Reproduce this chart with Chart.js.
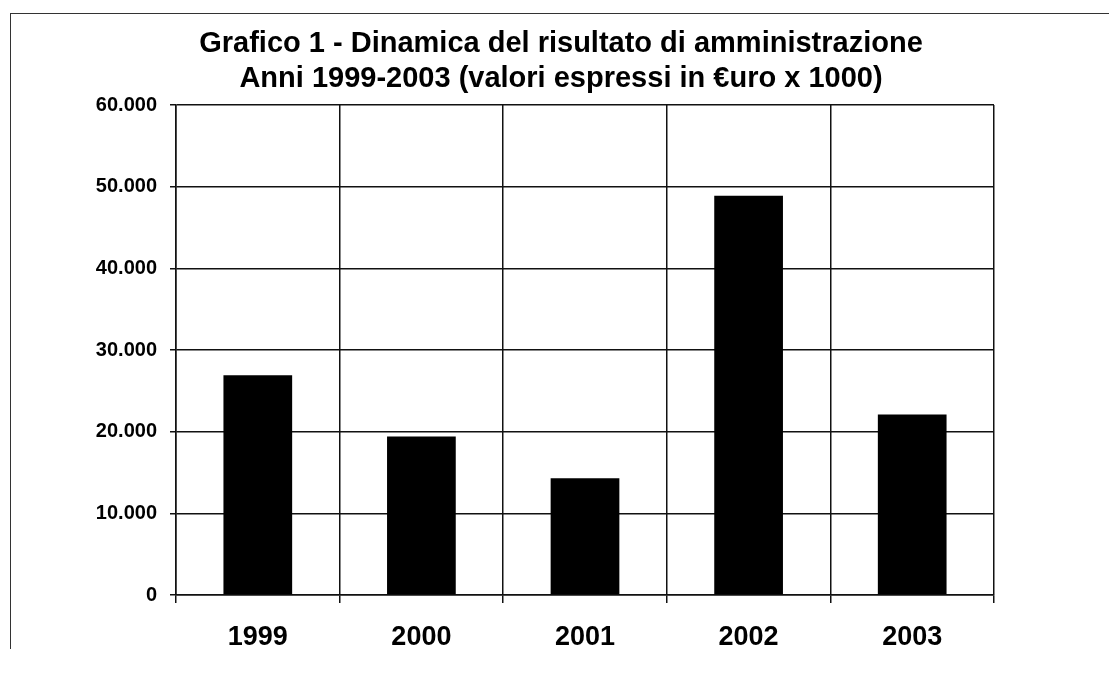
<!DOCTYPE html>
<html>
<head>
<meta charset="utf-8">
<script src="https://cdn.jsdelivr.net/npm/chart.js@4"></script>
<style>
  html, body { margin: 0; padding: 0; background: #fff; }
  #wrap { position: relative; width: 1109px; height: 673px; }
  #frame {
    position: absolute; left: 10px; top: 13px; right: 0; height: 635px;
    border-top: 1px solid #333; border-left: 1px solid #333;
  }
  canvas { position: absolute; left: 0; top: 0; }
</style>
</head>
<body>
<div id="wrap">
  <div id="frame"></div>
  <canvas id="chart" width="1109" height="673"></canvas>
</div>
<script>
// dati (valori in euro x 1000)
const anni = ["1999", "2000", "2001", "2002", "2003"];
const risultato = [26900, 19400, 14300, 48900, 22100];
const titolo = [
  "Grafico 1 - Dinamica del risultato di amministrazione",
  "Anni 1999-2003 (valori espressi in \u20acuro x 1000)"
];
const yMin = 0, yMax = 60000, yStep = 10000;

const FONT = "'Liberation Sans', Arial, sans-serif";

/* formato italiano: 10000 -> 10.000 */
function fmt(v) {
  return String(v).replace(/\B(?=(\d{3})+(?!\d))/g, ".");
}

/* titolo su due righe, disegnato sopra il grafico */
const titlePlugin = {
  id: "titolo",
  afterDraw(chart) {
    const ctx = chart.ctx;
    ctx.save();
    ctx.fillStyle = "#000";
    ctx.font = "bold 29px " + FONT;
    ctx.textAlign = "center";
    ctx.textBaseline = "alphabetic";
    ctx.fillText(titolo[0], 561, 52);
    ctx.fillText(titolo[1], 561, 87);
    ctx.restore();
  }
};

const config = {
  type: "bar",
  data: {
    labels: anni,
    datasets: [{
      label: "Risultato di amministrazione",
      data: risultato,
      backgroundColor: "#000",
      borderWidth: 0,
      barPercentage: 0.42,
      categoryPercentage: 1
    }]
  },
  options: {
    responsive: false,
    animation: false,
    layout: { padding: { top: 105, right: 115, bottom: 0, left: 0 } },
    plugins: {
      legend: { display: false },
      tooltip: { enabled: false },
      title: { display: false }
    },
    scales: {
      x: {
        grid: { color: "#111", lineWidth: 1.5, tickLength: 8, offset: true },
        border: { color: "#111", width: 1.5 },
        ticks: {
          color: "#000",
          padding: 18,
          font: { family: FONT, size: 27, weight: "bold" }
        },
        afterFit(scale) { scale.height = 78; }
      },
      y: {
        min: yMin,
        max: yMax,
        grid: { color: "#111", lineWidth: 1.5, tickLength: 6 },
        border: { color: "#111", width: 1.5 },
        ticks: {
          stepSize: yStep,
          color: "#000",
          padding: 13,
          font: { family: FONT, size: 20, weight: "bold" },
          callback: (v) => fmt(v)
        },
        afterFit(scale) { scale.width = 176; }
      }
    }
  },
  plugins: [titlePlugin]
};

new Chart(document.getElementById("chart"), config);
</script>
</body>
</html>
